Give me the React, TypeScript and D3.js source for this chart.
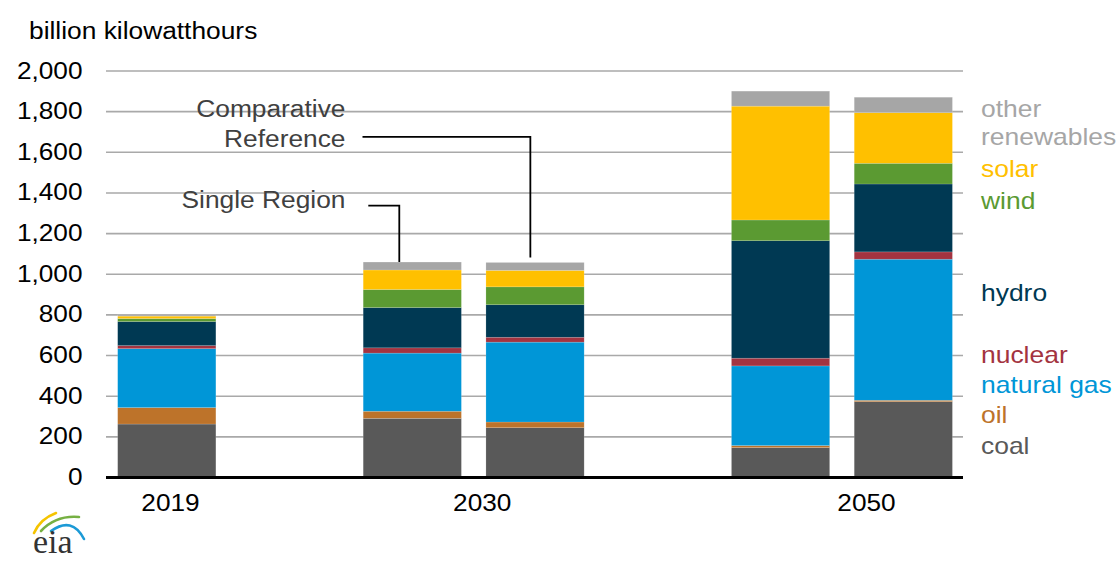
import React from "react";
import * as d3 from "d3";

// ---------- data ----------
const slots = ["2019", "gapA", "2030 single", "2030 comparative", "gapB", "2050 single", "2050 comparative"];
const bars = ["2019", "2030 single", "2030 comparative", "2050 single", "2050 comparative"];
const fuels = ["coal", "oil", "natural gas", "nuclear", "hydro", "wind", "solar", "other renewables"];

const coal = [263, 291, 245, 147, 373];
const oil = [81, 35, 28, 10, 7];
const naturalGas = [290, 286, 393, 392, 694];
const nuclear = [15, 26, 24, 38, 36];
const hydro = [118, 198, 160, 578, 334];
const wind = [15, 89, 88, 102, 102];
const solar = [12, 96, 81, 560, 249];
const otherRenewables = [6, 39, 39, 74, 76];

const yTicks = [0, 200, 400, 600, 800, 1000, 1200, 1400, 1600, 1800, 2000];
const yearLabels = ["2019", "2030", "2050"];

const colors: Record<string, string> = {
  coal: "#595959",
  oil: "#BD732A",
  "natural gas": "#0096D7",
  nuclear: "#A33340",
  hydro: "#003953",
  wind: "#5B9A32",
  solar: "#FFC000",
  "other renewables": "#A6A6A6",
};

const seriesValues = [coal, oil, naturalGas, nuclear, hydro, wind, solar, otherRenewables];

const FONT = "'Liberation Sans', Arial, sans-serif";

function SText({ x, y, sx = 1.1, size = 23, anchor = "start", fill = "#000", children }: any) {
  return (
    <g transform={`translate(${x},${y}) scale(${sx},1)`}>
      <text fontFamily={FONT} fontSize={size} textAnchor={anchor} fill={fill}>
        {children}
      </text>
    </g>
  );
}

export default function App() {
  const W = 1116;
  const H = 561;

  const x = d3.scaleBand<string>().domain(slots).range([105.4, 964.7]).paddingInner(0.2).paddingOuter(0.1);
  const y = d3.scaleLinear().domain([0, 2000]).range([477.5, 71]);

  const table = bars.map((b, i) => {
    const row: any = { bar: b };
    fuels.forEach((f, j) => (row[f] = seriesValues[j][i]));
    return row;
  });
  const stacked = d3.stack<any>().keys(fuels)(table);

  const bw = x.bandwidth();
  const step = x.step();
  const x0 = (x("2019") as number) + bw / 2;
  // year label centers (in slot units from the first slot center)
  const labelSlotPos = [0.03, 2.57, 5.7];

  const totals = bars.map((_, i) => d3.sum(seriesValues, (s) => s[i]));
  const single30x = (x("2030 single") as number) + bw / 2;
  const comp30x = (x("2030 comparative") as number) + bw / 2;

  const legendY: Record<string, number> = {
    "other renewables": 116.7,
    solar: 177.3,
    wind: 208.7,
    hydro: 300.7,
    nuclear: 362.7,
    "natural gas": 393.3,
    oil: 423.3,
    coal: 454,
  };

  return (
    <svg width={W} height={H} style={{ position: "absolute", left: 0, top: 0, background: "#fff" }}>
      <rect x={0} y={0} width={W} height={H} fill="#fff" />
      {/* gridlines */}
      {yTicks.slice(1).map((t) => (
        <line key={t} x1={106} x2={963} y1={y(t)} y2={y(t)} stroke="#A9A9A9" strokeWidth={1.6} />
      ))}
      {/* y tick labels */}
      {yTicks.map((t) => (
        <SText key={t} x={82.5} y={y(t) + 7.5} size={24.5} sx={1.07} anchor="end" fill="#000">
          {d3.format(",")(t)}
        </SText>
      ))}
      <SText x={29} y={39} size={23} sx={1.145} fill="#000">
        billion kilowatthours
      </SText>

      {/* bars */}
      {stacked.map((layer) => (
        <g key={layer.key} fill={colors[layer.key]}>
          {layer.map((d, i) => (
            <rect
              key={i}
              x={x(bars[i]) as number}
              y={y(d[1])}
              width={bw}
              height={Math.max(0, y(d[0]) - y(d[1]))}
              stroke="#ffffff"
              strokeOpacity={0.25}
              strokeWidth={0.6}
            />
          ))}
        </g>
      ))}

      {/* baseline */}
      <line x1={106} x2={963} y1={y(0)} y2={y(0)} stroke="#000" strokeWidth={3} />

      {/* year labels */}
      {yearLabels.map((lab, i) => (
        <SText key={lab} x={x0 + step * labelSlotPos[i]} y={511} size={24.5} sx={1.07} anchor="middle" fill="#000">
          {lab}
        </SText>
      ))}

      {/* annotations */}
      <SText x={345.5} y={116.7} size={23} sx={1.145} anchor="end" fill="#404040">
        Comparative
      </SText>
      <SText x={345.5} y={147.3} size={23} sx={1.145} anchor="end" fill="#404040">
        Reference
      </SText>
      <SText x={345.5} y={208.3} size={23} sx={1.145} anchor="end" fill="#404040">
        Single Region
      </SText>
      <polyline
        points={`362.5,136.8 ${comp30x - 4.7},136.8 ${comp30x - 4.7},${y(totals[2]) - 5}`}
        fill="none"
        stroke="#000"
        strokeWidth={1.8}
      />
      <polyline
        points={`368.3,205.7 ${single30x - 13},205.7 ${single30x - 13},${y(totals[1])}`}
        fill="none"
        stroke="#000"
        strokeWidth={1.8}
      />

      {/* legend */}
      {fuels.map((f) =>
        f === "other renewables" ? (
          <g key={f}>
            <SText x={981} y={legendY[f]} size={23} sx={1.15} fill={colors[f]}>
              other
            </SText>
            <SText x={981} y={legendY[f] + 28.5} size={23} sx={1.15} fill={colors[f]}>
              renewables
            </SText>
          </g>
        ) : (
          <SText key={f} x={981} y={legendY[f]} size={23} sx={1.15} fill={colors[f]}>
            {f}
          </SText>
        )
      )}

      {/* eia logo */}
      <g>
        <path d="M34,533 Q40,519 56,513" fill="none" stroke="#F5C400" strokeWidth={2.6} strokeLinecap="round" />
        <path d="M41,531 Q56,515 79,517" fill="none" stroke="#76B043" strokeWidth={2.6} strokeLinecap="round" />
        <path d="M51,531 Q72,516 84,539" fill="none" stroke="#1C9AD6" strokeWidth={2.6} strokeLinecap="round" />
        <text x={33} y={553} fontFamily="'Liberation Serif', 'DejaVu Serif', serif" fontSize={34} fill="#333">
          eia
        </text>
      </g>
    </svg>
  );
}
